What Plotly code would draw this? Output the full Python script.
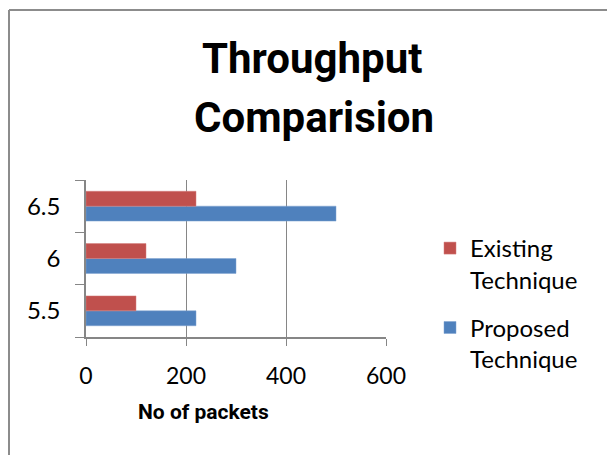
import plotly.graph_objects as go

categories = ["5.5", "6", "6.5"]
existing = [100, 120, 220]
proposed = [220, 300, 500]
x_ticks = [0, 200, 400, 600]

W, H = 607, 455
L, R, T, B = 86, 386, 180, 337  # plot area in pixels

def px_x(px):
    return (px - L) / (R - L)

def px_y(py):
    return (B - py) / (B - T)

fig = go.Figure()
fig.add_trace(go.Bar(y=categories, x=proposed, orientation="h", name="Proposed<br>Technique",
                     legendgroup="p", legendrank=2,
                     marker=dict(color="#4F81BD", line=dict(color="#7FA3D1", width=0.5))))
fig.add_trace(go.Bar(y=categories, x=existing, orientation="h", name="Existing<br>Technique",
                     legendgroup="e", legendrank=1,
                     marker=dict(color="#C0504D", line=dict(color="#D47F7C", width=0.5))))

body_font = "Lato, Open Sans, sans-serif"
bold_font = "Roboto, Liberation Sans, sans-serif"

fig.update_layout(
    width=W, height=H,
    margin=dict(l=L, r=W - R, t=T, b=H - B),
    paper_bgcolor="white", plot_bgcolor="white",
    barmode="group", bargap=0.43, bargroupgap=0,
    showlegend=True,
    legend=dict(x=px_x(430), y=px_y(226), xanchor="left", yanchor="top",
                traceorder="grouped", valign="top",
                font=dict(family=body_font, size=24, color="black"),
                tracegroupgap=14, bgcolor="rgba(0,0,0,0)"),
    xaxis=dict(range=[0, 600], tickvals=x_ticks, showgrid=True, gridcolor="#868686", gridwidth=1,
               showline=True, linecolor="#868686", linewidth=1.5, ticks="outside", ticklen=7,
               tickcolor="#868686", ticklabelstandoff=11,
               tickfont=dict(family=body_font, size=23, color="black"), zeroline=False, fixedrange=True),
    yaxis=dict(type="category", categoryorder="array", categoryarray=categories,
               showgrid=False, showline=True, linecolor="#868686", linewidth=1.5,
               ticks="outside", tickson="boundaries", ticklen=9, tickcolor="#868686",
               ticklabelstandoff=19,
               tickfont=dict(family=body_font, size=24, color="black"), fixedrange=True),
    font=dict(family=body_font, color="black"),
)

fig.add_annotation(text="<b>Throughput</b>", xref="paper", yref="paper",
                   x=px_x(312), y=px_y(59), xanchor="center", yanchor="middle", showarrow=False,
                   font=dict(family=bold_font, size=42, color="black"))
fig.add_annotation(text="<b>Comparision</b>", xref="paper", yref="paper",
                   x=px_x(314), y=px_y(117), xanchor="center", yanchor="middle", showarrow=False,
                   font=dict(family=bold_font, size=42, color="black"))
fig.add_annotation(text="<b>No of packets</b>", xref="paper", yref="paper",
                   x=px_x(203), y=px_y(412), xanchor="center", yanchor="middle", showarrow=False,
                   font=dict(family=bold_font, size=21, color="black"))

# chart frame border (left and top edges visible)
fig.add_shape(type="line", xref="paper", yref="paper", x0=px_x(9), y0=px_y(10), x1=px_x(9), y1=px_y(460),
              line=dict(color="#8C8C8C", width=2))
fig.add_shape(type="line", xref="paper", yref="paper", x0=px_x(9), y0=px_y(10), x1=px_x(620), y1=px_y(10),
              line=dict(color="#8C8C8C", width=2))

fig.write_html("out.html", config={"displayModeBar": False},
               post_script="document.body.style.margin='0';")
